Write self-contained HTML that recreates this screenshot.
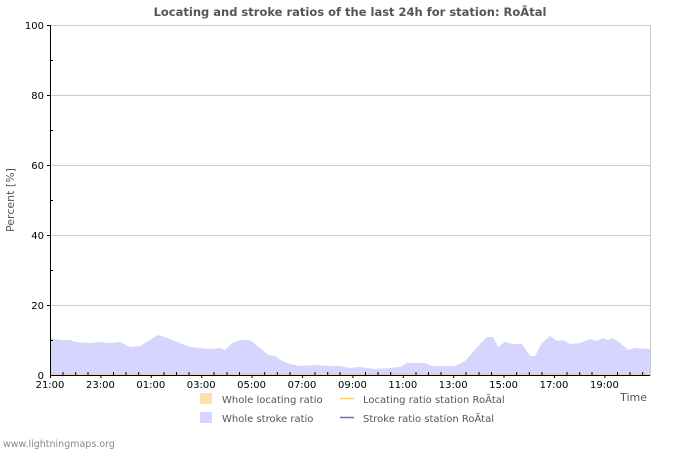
<!DOCTYPE html>
<html><head><meta charset="utf-8"><style>
body{margin:0;background:#fff;}
svg{display:block;font-family:"DejaVu Sans","Liberation Sans",sans-serif;}
</style></head><body>
<svg width="700" height="450" viewBox="0 0 700 450">
<rect width="700" height="450" fill="#fff"/>
<text x="350" y="16" text-anchor="middle" font-size="11.5" font-weight="bold" fill="#555">Locating and stroke ratios of the last 24h for station: RoÃtal</text>
<rect x="50.5" y="25.5" width="600" height="350" fill="#fff" stroke="#ccc"/>
<g stroke="#ccc" stroke-width="1">
<line x1="50" y1="95.5" x2="650" y2="95.5"/><line x1="50" y1="165.5" x2="650" y2="165.5"/>
<line x1="50" y1="235.5" x2="650" y2="235.5"/><line x1="50" y1="305.5" x2="650" y2="305.5"/>
</g>
<polygon fill="#d5d5ff" points="50,375 50,338 60,340 70,340 75,342 90,343 100,342 110,343 120,342 130,347 140,346 150,340 158,335 165,337 175,341 190,347 200,348 210,349 220,348 225,350 232,343 240,340 250,340 260,348 268,355 275,356 282,361 290,364 300,366 315,365 330,366 340,366 350,368 360,367 375,369 390,368 400,367 407,363 425,363 432,366 455,366 465,361 473,352 480,344 487,337 493,337 498,347 505,342 512,344 522,344 530,356 535,356 542,343 550,336 557,341 563,340 570,344 580,343 590,339 597,341 603,338 608,340 613,338 620,343 628,350 635,348 650,349 650,375"/>
<polygon fill="#f0c8a0" opacity="0.7" points="50,375 50,373 100,374 200,374 240,373 250,373 300,374 400,373 450,374 550,373 600,374 650,374 650,375"/>
<line x1="50.5" y1="25" x2="50.5" y2="376" stroke="#000"/>
<line x1="50" y1="375.5" x2="650" y2="375.5" stroke="#000"/>
<g stroke="#000">
<line x1="47" y1="25.5" x2="50" y2="25.5"/><line x1="47" y1="95.5" x2="50" y2="95.5"/><line x1="47" y1="165.5" x2="50" y2="165.5"/><line x1="47" y1="235.5" x2="50" y2="235.5"/><line x1="47" y1="305.5" x2="50" y2="305.5"/>
<line x1="50" y1="60.5" x2="53" y2="60.5"/><line x1="50" y1="130.5" x2="53" y2="130.5"/><line x1="50" y1="200.5" x2="53" y2="200.5"/><line x1="50" y1="270.5" x2="53" y2="270.5"/><line x1="50" y1="340.5" x2="53" y2="340.5"/>
</g>
<g stroke="#000" id="xt"></g>
<g font-size="10" fill="#000" text-anchor="end">
<text x="44" y="29">100</text><text x="44" y="99">80</text><text x="44" y="169">60</text><text x="44" y="239">40</text><text x="44" y="309">20</text><text x="44" y="379">0</text>
</g>
<g font-size="10" fill="#000" text-anchor="middle">
<text x="50" y="388">21:00</text><text x="100.4" y="388">23:00</text><text x="150.8" y="388">01:00</text><text x="201.2" y="388">03:00</text><text x="251.6" y="388">05:00</text><text x="302" y="388">07:00</text><text x="352.4" y="388">09:00</text><text x="402.8" y="388">11:00</text><text x="453.2" y="388">13:00</text><text x="503.6" y="388">15:00</text><text x="554" y="388">17:00</text><text x="604.4" y="388">19:00</text>
</g>
<text x="14" y="200" font-size="11" fill="#555" text-anchor="middle" transform="rotate(-90 14 200)">Percent   [%]</text>
<text x="647" y="401" font-size="11" fill="#555" text-anchor="end">Time</text>
<rect x="200" y="393" width="12" height="11" fill="#ffe0a8"/>
<text x="222" y="403" font-size="10" fill="#555">Whole locating ratio</text>
<line x1="340" y1="398.5" x2="354" y2="398.5" stroke="#ffcc66" stroke-width="1.5"/>
<text x="363" y="403" font-size="10" fill="#555">Locating ratio station RoÃtal</text>
<rect x="200" y="412" width="12" height="11" fill="#d5d5ff"/>
<text x="222" y="422" font-size="10" fill="#555">Whole stroke ratio</text>
<line x1="340" y1="417.5" x2="354" y2="417.5" stroke="#6666dd" stroke-width="1.5"/>
<text x="363" y="422" font-size="10" fill="#555">Stroke ratio station RoÃtal</text>
<text x="3" y="447" font-size="9.5" fill="#888">www.lightningmaps.org</text>
<g stroke="#000">
<path d="M50.5 375v3M63 375v-3M75.7 375v-3M88 375v-3M100.9 375v3M113.5 375v-3M126 375v-3M138.7 375v-3M151.3 375v3M164 375v-3M176.5 375v-3M189 375v-3M201.7 375v3M214 375v-3M227 375v-3M239.5 375v-3M252 375v3M264.7 375v-3M277.3 375v-3M290 375v-3M302.5 375v3M315 375v-3M327.7 375v-3M340 375v-3M352.9 375v3M365.5 375v-3M378 375v-3M390.7 375v-3M403.3 375v3M416 375v-3M428.5 375v-3M441 375v-3M453.7 375v3M466 375v-3M479 375v-3M491.5 375v-3M504 375v3M516.7 375v-3M529.3 375v-3M542 375v-3M554.5 375v3M567 375v-3M579.7 375v-3M592 375v-3M604.9 375v3M617.5 375v-3M630 375v-3M642.7 375v-3"/>
</g>
</svg>
</body></html>
